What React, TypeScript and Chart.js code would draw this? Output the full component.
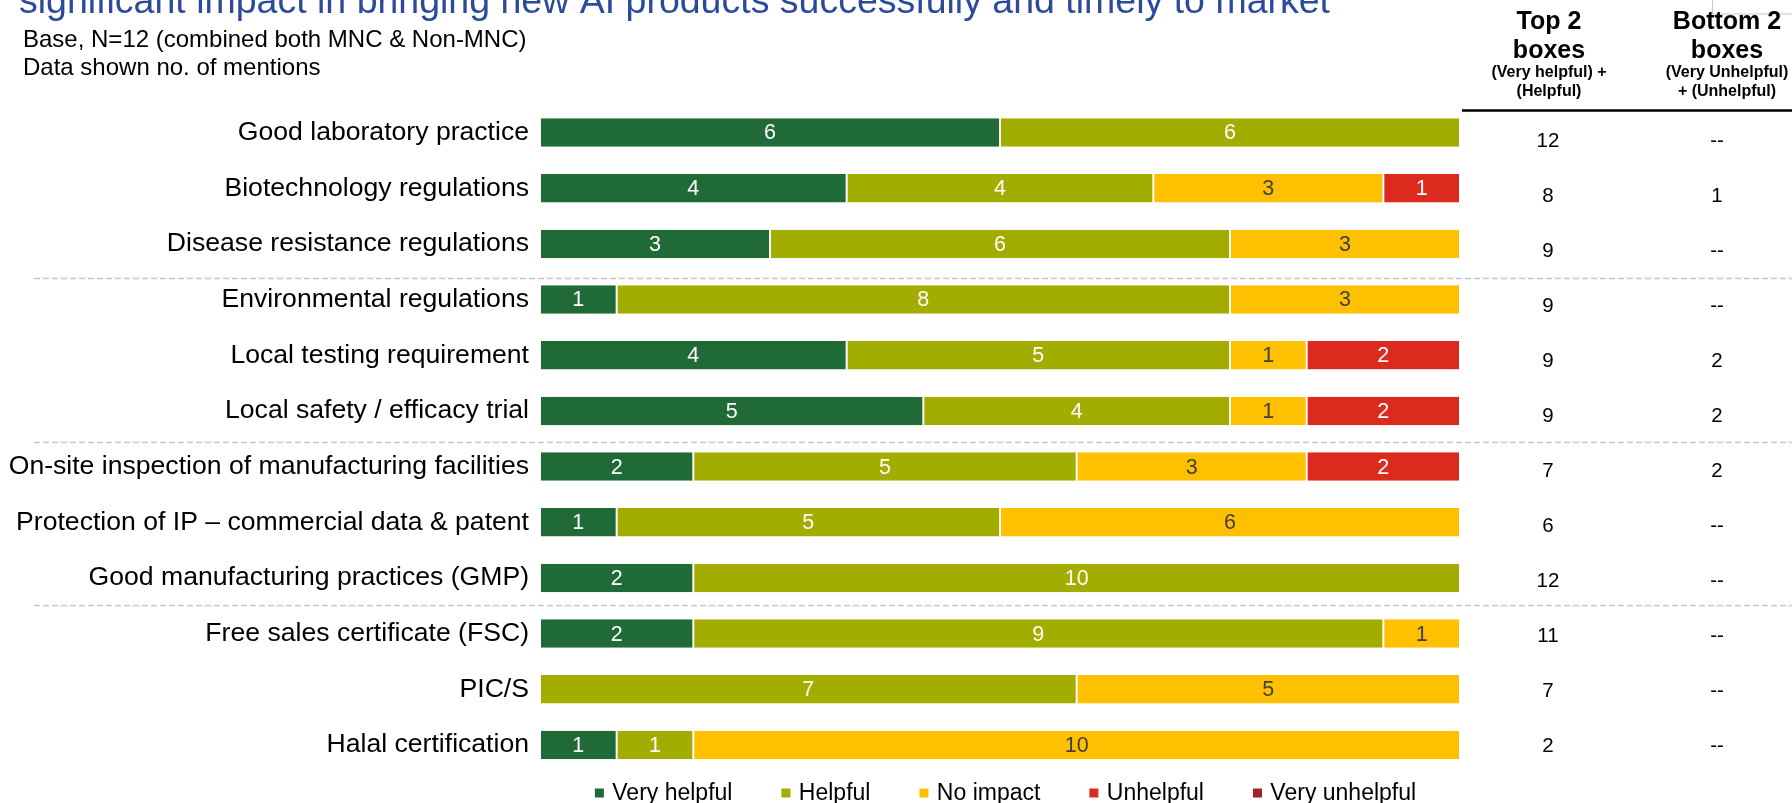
import React, { useEffect, useRef } from 'react';
import { Chart, registerables } from 'chart.js';

Chart.register(...registerables);

// ---------------- DATA ----------------
const categories = [
  'Good laboratory practice',
  'Biotechnology regulations',
  'Disease resistance regulations',
  'Environmental regulations',
  'Local testing requirement',
  'Local safety / efficacy trial',
  'On-site inspection of manufacturing facilities',
  'Protection of IP – commercial data & patent',
  'Good manufacturing practices (GMP)',
  'Free sales certificate (FSC)',
  'PIC/S',
  'Halal certification',
];
const seriesNames = ['Very helpful', 'Helpful', 'No impact', 'Unhelpful', 'Very unhelpful'];
const veryHelpful = [6, 4, 3, 1, 4, 5, 2, 1, 2, 2, 0, 1];
const helpful = [6, 4, 6, 8, 5, 4, 5, 5, 10, 9, 7, 1];
const noImpact = [0, 3, 3, 3, 1, 1, 3, 6, 0, 1, 5, 10];
const unhelpful = [0, 1, 0, 0, 2, 2, 2, 0, 0, 0, 0, 0];
const veryUnhelpful = [0, 0, 0, 0, 0, 0, 0, 0, 0, 0, 0, 0];
const top2Boxes = [12, 8, 9, 9, 9, 9, 7, 6, 12, 11, 7, 2];
const bottom2Boxes = [0, 1, 0, 0, 2, 2, 2, 0, 0, 0, 0, 0];
const xMax = 12;

const titleText = 'significant impact in bringing new AI products successfully and timely to market';
const subtitleLines = ['Base, N=12 (combined both MNC & Non-MNC)', 'Data shown no. of mentions'];
const top2Header = ['Top 2', 'boxes', '(Very helpful) +', '(Helpful)'];
const bottom2Header = ['Bottom 2', 'boxes', '(Very Unhelpful)', '+ (Unhelpful)'];

// ---------------- STYLE / LAYOUT ----------------
const FONT = '"Liberation Sans", Arial, Helvetica, sans-serif';
const colors = ['#206A37', '#A3AD00', '#FFC000', '#DC2A1F', '#A02128'];
const labelColors = ['#FFFFFF', '#FFFFFF', '#404040', '#FFFFFF', '#FFFFFF'];
const separatorPositions = [2.62, 5.55, 8.48];

const seriesData = [veryHelpful, helpful, noImpact, unhelpful, veryUnhelpful];

const overlayPlugin = {
  id: 'overlay',
  afterDatasetsDraw(chart: any) {
    const ctx = chart.ctx as CanvasRenderingContext2D;
    ctx.save();
    ctx.textAlign = 'center';
    ctx.textBaseline = 'middle';
    ctx.font = `21.5px ${FONT}`;
    chart.data.datasets.forEach((ds: any, di: number) => {
      const meta = chart.getDatasetMeta(di);
      meta.data.forEach((el: any, i: number) => {
        const v = ds.data[i];
        if (!v) return;
        const p = el.getProps(['x', 'base', 'y'], true);
        ctx.fillStyle = labelColors[di];
        ctx.fillText(String(v), (p.x + p.base) / 2, p.y + 1);
      });
    });
    ctx.restore();
  },
  afterDraw(chart: any) {
    const ctx = chart.ctx as CanvasRenderingContext2D;
    const yScale = chart.scales.y;
    const area = chart.chartArea;
    ctx.save();

    // title (cut off at top)
    ctx.textAlign = 'left';
    ctx.textBaseline = 'alphabetic';
    ctx.fillStyle = '#2B4A9B';
    ctx.font = `37.5px ${FONT}`;
    ctx.fillText(titleText, 19, 13);

    // subtitle
    ctx.fillStyle = '#000';
    ctx.font = `24px ${FONT}`;
    ctx.fillText(subtitleLines[0], 23, 47);
    ctx.fillText(subtitleLines[1], 23, 75);

    // small box top right
    ctx.strokeStyle = '#C8C8C8';
    ctx.lineWidth = 1;
    ctx.strokeRect(1712.5, -2, 100, 16);

    // separators
    ctx.strokeStyle = '#C8C8C8';
    ctx.lineWidth = 1.5;
    ctx.setLineDash([6, 3]);
    separatorPositions.forEach((pos) => {
      const y = Math.round(yScale.getPixelForValue(pos)) + 0.5;
      ctx.beginPath();
      ctx.moveTo(34, y);
      ctx.lineTo(1792, y);
      ctx.stroke();
    });
    ctx.setLineDash([]);

    // table header
    ctx.fillStyle = '#000';
    ctx.textAlign = 'center';
    ctx.textBaseline = 'middle';
    const drawHeader = (lines: string[], cx: number) => {
      ctx.font = `bold 25px ${FONT}`;
      ctx.fillText(lines[0], cx, 22);
      ctx.fillText(lines[1], cx, 51);
      ctx.font = `bold 16px ${FONT}`;
      ctx.fillText(lines[2], cx, 73);
      ctx.fillText(lines[3], cx, 92);
    };
    drawHeader(top2Header, 1549);
    drawHeader(bottom2Header, 1727);

    ctx.strokeStyle = '#000';
    ctx.lineWidth = 2.5;
    ctx.beginPath();
    ctx.moveTo(1462, 110.5);
    ctx.lineTo(1792, 110.5);
    ctx.stroke();

    // table values
    ctx.font = `20.5px ${FONT}`;
    ctx.fillStyle = '#000';
    categories.forEach((_, i) => {
      const y = yScale.getPixelForValue(i) + 9 - 0.7 * i;
      ctx.fillText(top2Boxes[i] ? String(top2Boxes[i]) : '--', 1548, y);
      ctx.fillText(bottom2Boxes[i] ? String(bottom2Boxes[i]) : '--', 1717, y);
    });

    // legend
    ctx.font = `23px ${FONT}`;
    ctx.textAlign = 'left';
    const sq = 9;
    const textGap = 17.4;
    const itemGap = 49;
    const widths = chart.data.datasets.map((d: any) => ctx.measureText(d.label).width);
    const total = widths.reduce((a: number, w: number) => a + w + textGap, 0) + itemGap * (widths.length - 1);
    let x = (area.left + area.right) / 2 + 5.5 - total / 2;
    const ly = 793;
    chart.data.datasets.forEach((d: any, i: number) => {
      ctx.fillStyle = d.backgroundColor;
      ctx.fillRect(x, ly - sq / 2, sq, sq);
      ctx.fillStyle = '#000';
      ctx.fillText(d.label, x + textGap, ly + 1);
      x += textGap + widths[i] + itemGap;
    });

    ctx.restore();
  },
};

export default function App() {
  const ref = useRef<HTMLCanvasElement>(null);
  useEffect(() => {
    const chart = new Chart(ref.current as HTMLCanvasElement, {
      type: 'bar',
      data: {
        labels: categories,
        datasets: seriesData.map((arr, i) => ({
          label: seriesNames[i],
          data: arr,
          backgroundColor: colors[i],
          borderColor: '#FFFFFF',
          borderWidth: { top: 0, bottom: 0, left: 1, right: 1 },
          borderSkipped: false,
          categoryPercentage: 1,
          barPercentage: 0.512,
        })),
      },
      options: {
        indexAxis: 'y',
        responsive: false,
        maintainAspectRatio: false,
        animation: false,
        devicePixelRatio: 1,
        layout: { padding: { left: 0, right: 332, top: 104.7, bottom: 30.2 } },
        scales: {
          x: { stacked: true, min: 0, max: xMax, display: false },
          y: {
            stacked: true,
            grid: { display: false, drawTicks: false },
            border: { display: false },
            ticks: { color: '#000', font: { family: FONT, size: 26.6 }, padding: 11, autoSkip: false },
            afterFit: (s: any) => { s.width = 540; },
          },
        },
        plugins: {
          legend: { display: false },
          tooltip: { enabled: false },
          title: { display: false },
        },
      } as any,
      plugins: [overlayPlugin],
    });
    return () => chart.destroy();
  }, []);
  return (
    <div style={{ position: 'fixed', left: 0, top: 0, width: 1792, height: 803, background: '#fff' }}>
      <canvas ref={ref} width={1792} height={803} style={{ display: 'block', width: 1792, height: 803 }} />
    </div>
  );
}
